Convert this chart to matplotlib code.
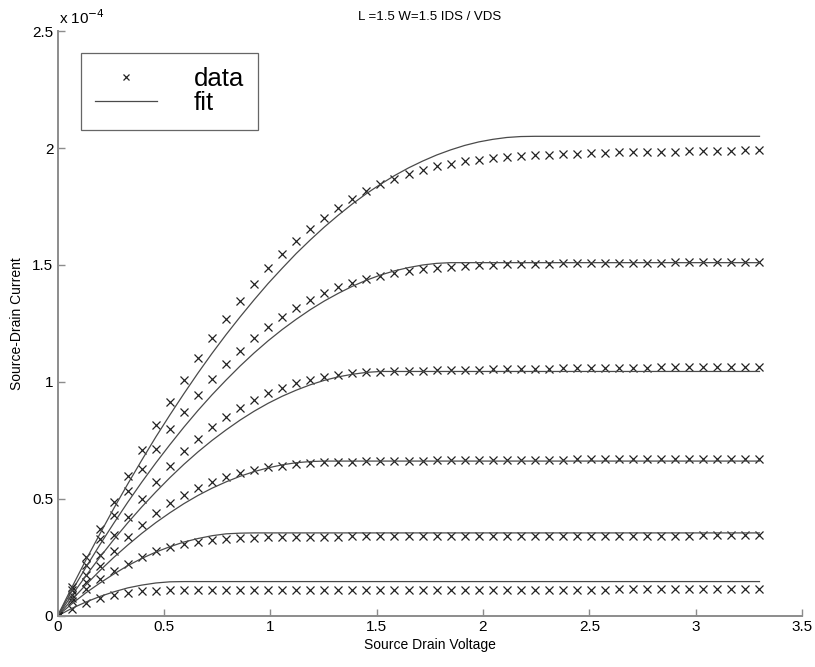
import matplotlib.pyplot as plt
from matplotlib.lines import Line2D
from matplotlib.ticker import FormatStrFormatter

plt.rcParams['font.family'] = ['Liberation Sans', 'DejaVu Sans']

# drain-source sweep (V)
vds = [0.000, 0.066, 0.132, 0.198, 0.264, 0.330, 0.396, 0.462, 0.528, 0.594,
       0.660, 0.726, 0.792, 0.858, 0.924, 0.990, 1.056, 1.122, 1.188, 1.254,
       1.320, 1.386, 1.452, 1.518, 1.584, 1.650, 1.716, 1.782, 1.848, 1.914,
       1.980, 2.046, 2.112, 2.178, 2.244, 2.310, 2.376, 2.442, 2.508, 2.574,
       2.640, 2.706, 2.772, 2.838, 2.904, 2.970, 3.036, 3.102, 3.168, 3.234,
       3.300]

# measured drain current, units of 1e-4 A, one list per gate voltage
data_1 = [0.000, 0.030, 0.056, 0.077, 0.091, 0.100, 0.105, 0.108, 0.109, 0.110,
          0.110, 0.111, 0.111, 0.111, 0.111, 0.112, 0.112, 0.112, 0.112, 0.112,
          0.112, 0.112, 0.112, 0.112, 0.112, 0.113, 0.113, 0.113, 0.113, 0.113,
          0.113, 0.113, 0.113, 0.113, 0.113, 0.113, 0.113, 0.113, 0.113, 0.113,
          0.114, 0.114, 0.114, 0.114, 0.114, 0.114, 0.114, 0.114, 0.114, 0.114,
          0.114]
data_2 = [0.000, 0.062, 0.115, 0.157, 0.192, 0.223, 0.252, 0.276, 0.295, 0.309,
          0.318, 0.325, 0.330, 0.333, 0.335, 0.336, 0.337, 0.338, 0.338, 0.339,
          0.339, 0.340, 0.340, 0.340, 0.340, 0.340, 0.341, 0.341, 0.341, 0.341,
          0.341, 0.341, 0.341, 0.342, 0.342, 0.342, 0.342, 0.342, 0.342, 0.342,
          0.343, 0.343, 0.343, 0.343, 0.343, 0.343, 0.344, 0.344, 0.344, 0.344,
          0.344]
data_3 = [0.000, 0.075, 0.145, 0.212, 0.276, 0.336, 0.390, 0.438, 0.482, 0.518,
          0.548, 0.574, 0.595, 0.612, 0.625, 0.635, 0.643, 0.649, 0.653, 0.656,
          0.658, 0.660, 0.661, 0.662, 0.663, 0.664, 0.664, 0.665, 0.665, 0.666,
          0.666, 0.667, 0.667, 0.667, 0.668, 0.668, 0.668, 0.669, 0.669, 0.669,
          0.670, 0.670, 0.670, 0.670, 0.671, 0.671, 0.671, 0.671, 0.672, 0.672,
          0.672]
data_4 = [0.000, 0.090, 0.177, 0.262, 0.344, 0.423, 0.500, 0.574, 0.643, 0.704,
          0.758, 0.808, 0.852, 0.890, 0.922, 0.951, 0.976, 0.994, 1.009, 1.020,
          1.030, 1.037, 1.041, 1.044, 1.046, 1.048, 1.049, 1.050, 1.051, 1.052,
          1.053, 1.054, 1.055, 1.056, 1.056, 1.057, 1.058, 1.058, 1.059, 1.060,
          1.060, 1.061, 1.061, 1.062, 1.062, 1.063, 1.063, 1.064, 1.064, 1.065,
          1.065]
data_5 = [0.000, 0.110, 0.219, 0.327, 0.432, 0.533, 0.627, 0.715, 0.797, 0.872,
          0.944, 1.011, 1.076, 1.134, 1.188, 1.236, 1.279, 1.318, 1.350, 1.379,
          1.404, 1.424, 1.441, 1.454, 1.465, 1.474, 1.481, 1.487, 1.492, 1.496,
          1.499, 1.501, 1.503, 1.504, 1.505, 1.506, 1.507, 1.507, 1.508, 1.508,
          1.509, 1.509, 1.510, 1.510, 1.511, 1.511, 1.512, 1.512, 1.513, 1.513,
          1.514]
data_6 = [0.000, 0.125, 0.250, 0.370, 0.488, 0.600, 0.709, 0.815, 0.915, 1.009,
          1.101, 1.187, 1.269, 1.346, 1.419, 1.486, 1.546, 1.604, 1.654, 1.702,
          1.745, 1.782, 1.816, 1.845, 1.869, 1.891, 1.908, 1.921, 1.933, 1.943,
          1.950, 1.956, 1.961, 1.965, 1.969, 1.972, 1.974, 1.976, 1.978, 1.979,
          1.981, 1.982, 1.983, 1.984, 1.985, 1.986, 1.987, 1.988, 1.989, 1.990,
          1.991]

# model fit at the same drain voltages, units of 1e-4 A
fit_1 = [0.000, 0.032, 0.059, 0.083, 0.103, 0.120, 0.132, 0.141, 0.146, 0.147,
         0.147, 0.147, 0.147, 0.147, 0.147, 0.147, 0.147, 0.147, 0.147, 0.147,
         0.147, 0.147, 0.147, 0.147, 0.147, 0.147, 0.147, 0.147, 0.147, 0.147,
         0.147, 0.147, 0.147, 0.147, 0.147, 0.147, 0.147, 0.147, 0.147, 0.147,
         0.147, 0.147, 0.147, 0.147, 0.147, 0.147, 0.147, 0.147, 0.147, 0.147,
         0.147]
fit_2 = [0.000, 0.051, 0.098, 0.140, 0.179, 0.215, 0.246, 0.273, 0.296, 0.316,
         0.331, 0.343, 0.351, 0.354, 0.355, 0.355, 0.355, 0.355, 0.355, 0.355,
         0.355, 0.355, 0.355, 0.355, 0.355, 0.355, 0.355, 0.355, 0.355, 0.355,
         0.355, 0.355, 0.355, 0.355, 0.355, 0.355, 0.355, 0.355, 0.355, 0.355,
         0.355, 0.355, 0.355, 0.355, 0.355, 0.355, 0.355, 0.355, 0.355, 0.355,
         0.355]
fit_3 = [0.000, 0.068, 0.132, 0.193, 0.250, 0.303, 0.353, 0.399, 0.441, 0.480,
         0.515, 0.546, 0.573, 0.597, 0.617, 0.633, 0.646, 0.655, 0.660, 0.662,
         0.662, 0.662, 0.662, 0.662, 0.662, 0.662, 0.662, 0.662, 0.662, 0.662,
         0.662, 0.662, 0.662, 0.662, 0.662, 0.662, 0.662, 0.662, 0.662, 0.662,
         0.662, 0.662, 0.662, 0.662, 0.662, 0.662, 0.662, 0.662, 0.662, 0.662,
         0.662]
fit_4 = [0.000, 0.087, 0.170, 0.250, 0.326, 0.398, 0.466, 0.530, 0.591, 0.648,
         0.701, 0.750, 0.795, 0.837, 0.875, 0.909, 0.939, 0.965, 0.988, 1.007,
         1.022, 1.033, 1.041, 1.045, 1.045, 1.045, 1.045, 1.045, 1.045, 1.045,
         1.045, 1.045, 1.045, 1.045, 1.045, 1.045, 1.045, 1.045, 1.045, 1.045,
         1.045, 1.045, 1.045, 1.045, 1.045, 1.045, 1.045, 1.045, 1.045, 1.045,
         1.045]
fit_5 = [0.000, 0.105, 0.206, 0.303, 0.396, 0.486, 0.572, 0.654, 0.732, 0.807,
         0.878, 0.945, 1.008, 1.068, 1.124, 1.176, 1.224, 1.268, 1.309, 1.346,
         1.379, 1.409, 1.435, 1.457, 1.475, 1.489, 1.500, 1.507, 1.510, 1.510,
         1.510, 1.510, 1.510, 1.510, 1.510, 1.510, 1.510, 1.510, 1.510, 1.510,
         1.510, 1.510, 1.510, 1.510, 1.510, 1.510, 1.510, 1.510, 1.510, 1.510,
         1.510]
fit_6 = [0.000, 0.120, 0.237, 0.349, 0.459, 0.564, 0.666, 0.765, 0.859, 0.950,
         1.038, 1.122, 1.202, 1.278, 1.351, 1.421, 1.486, 1.549, 1.607, 1.662,
         1.713, 1.761, 1.805, 1.845, 1.882, 1.915, 1.944, 1.970, 1.992, 2.011,
         2.026, 2.037, 2.045, 2.049, 2.050, 2.050, 2.050, 2.050, 2.050, 2.050,
         2.050, 2.050, 2.050, 2.050, 2.050, 2.050, 2.050, 2.050, 2.050, 2.050,
         2.050]

measured = [data_1, data_2, data_3, data_4, data_5, data_6]
fitted = [fit_1, fit_2, fit_3, fit_4, fit_5, fit_6]

axis_grey = '#8c8c8c'

fig = plt.figure(figsize=(8.15, 6.67), dpi=100)
ax = fig.add_axes([0.0706, 0.0765, 0.9135, 0.877])

for ids, model in zip(measured, fitted):
    ax.plot(vds, ids, linestyle='none', marker='x', markersize=5.5,
            markeredgewidth=0.9, color='#222222')
    ax.plot(vds, model, '-', color='#4a4a4a', linewidth=0.9)

ax.set_xlim(0, 3.5)
ax.set_ylim(0, 2.5)
ax.set_xticks([0, 0.5, 1, 1.5, 2, 2.5, 3, 3.5])
ax.set_yticks([0, 0.5, 1, 1.5, 2, 2.5])
ax.xaxis.set_major_formatter(FormatStrFormatter('%g'))
ax.yaxis.set_major_formatter(FormatStrFormatter('%g'))

for side in ['top', 'right']:
    ax.spines[side].set_visible(False)
for side in ['left', 'bottom']:
    ax.spines[side].set_color(axis_grey)
    ax.spines[side].set_linewidth(1.4)
ax.tick_params(direction='in', length=5, width=1.0, color=axis_grey,
               labelsize=11, pad=3)

ax.annotate(r'x 10$^{-4}$', xy=(0, 1), xycoords='axes fraction',
            xytext=(1, 3), textcoords='offset points', ha='left', va='bottom',
            fontsize=11)

ax.set_title('L =1.5 W=1.5 IDS / VDS', fontsize=9.5, pad=8)
ax.set_xlabel('Source Drain Voltage', fontsize=10, labelpad=3)
ax.set_ylabel('Source-Drain Current', fontsize=10, labelpad=6)

handles = [Line2D([], [], linestyle='none', marker='x', markersize=5,
                  markeredgewidth=0.9, color='#222222'),
           Line2D([], [], color='#4a4a4a', linewidth=0.9)]
leg = ax.legend(handles, ['data', 'fit'], loc='upper left',
                bbox_to_anchor=(0.0312, 0.962), borderaxespad=0,
                fontsize=18.5, numpoints=1, handlelength=2.4,
                handletextpad=1.45, labelspacing=0.0, borderpad=0.55,
                fancybox=False, framealpha=1, edgecolor='#666666')
leg.get_frame().set_linewidth(0.9)

fig.savefig('out.png', dpi=100)
